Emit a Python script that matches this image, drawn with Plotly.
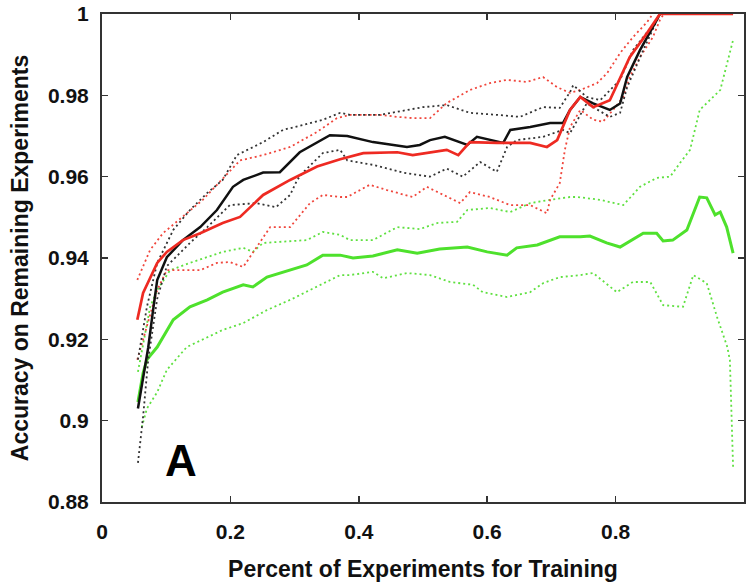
import plotly.graph_objects as go

# ---- data ----
red_x = [0.055, 0.064, 0.086, 0.101, 0.126, 0.153, 0.188, 0.215, 0.251, 0.293, 0.335, 0.371, 0.407, 0.460, 0.484, 0.511, 0.537, 0.555, 0.573, 0.615, 0.667, 0.693, 0.709, 0.729, 0.745, 0.765, 0.791, 0.822, 0.849, 0.869, 0.983]
red_y = [0.9248, 0.9314, 0.9388, 0.9415, 0.9444, 0.9461, 0.9486, 0.9501, 0.9555, 0.9592, 0.9625, 0.9643, 0.9658, 0.9660, 0.9653, 0.9660, 0.9666, 0.9653, 0.9685, 0.9683, 0.9683, 0.9673, 0.9690, 0.9764, 0.9796, 0.9771, 0.9788, 0.9894, 0.9953, 1.0, 1.0]

red_up_x = [0.055, 0.075, 0.095, 0.126, 0.157, 0.179, 0.215, 0.251, 0.293, 0.335, 0.366, 0.386, 0.433, 0.460, 0.484, 0.511, 0.537, 0.573, 0.604, 0.631, 0.662, 0.687, 0.709, 0.729, 0.745, 0.771, 0.787, 0.807, 0.827, 0.849, 0.858]
red_up_y = [0.9346, 0.9420, 0.9461, 0.9501, 0.9543, 0.9580, 0.9640, 0.9653, 0.9673, 0.9710, 0.9744, 0.9752, 0.9752, 0.9747, 0.9744, 0.9744, 0.9781, 0.9813, 0.9830, 0.9838, 0.9833, 0.9845, 0.9820, 0.9806, 0.9813, 0.9830, 0.9855, 0.9904, 0.9943, 0.9980, 1.0]

red_lo_x = [0.055, 0.070, 0.086, 0.101, 0.126, 0.153, 0.179, 0.199, 0.220, 0.241, 0.262, 0.293, 0.324, 0.344, 0.371, 0.382, 0.417, 0.444, 0.484, 0.506, 0.537, 0.558, 0.573, 0.604, 0.636, 0.667, 0.693, 0.698, 0.713, 0.721, 0.729, 0.745, 0.765, 0.780, 0.796, 0.812, 0.822, 0.838, 0.858, 0.869, 0.875]
red_lo_y = [0.9150, 0.9230, 0.9321, 0.9370, 0.9370, 0.9370, 0.9388, 0.9390, 0.9378, 0.9427, 0.9476, 0.9476, 0.9535, 0.9555, 0.9550, 0.9550, 0.9580, 0.9567, 0.9550, 0.9575, 0.9550, 0.9535, 0.9562, 0.9550, 0.9530, 0.9530, 0.9510, 0.9543, 0.9584, 0.9666, 0.9722, 0.9764, 0.9740, 0.9735, 0.9764, 0.9796, 0.9845, 0.9894, 0.9943, 0.9985, 1.0]

black_x = [0.056, 0.064, 0.072, 0.079, 0.086, 0.101, 0.126, 0.153, 0.179, 0.204, 0.220, 0.251, 0.277, 0.308, 0.335, 0.355, 0.382, 0.422, 0.475, 0.495, 0.511, 0.534, 0.569, 0.584, 0.625, 0.636, 0.667, 0.698, 0.718, 0.729, 0.745, 0.765, 0.791, 0.807, 0.818, 0.838, 0.864, 0.869]
black_y = [0.9030, 0.9100, 0.9180, 0.9265, 0.9346, 0.9402, 0.9444, 0.9476, 0.9518, 0.9575, 0.9592, 0.9610, 0.9611, 0.9660, 0.9683, 0.9702, 0.9700, 0.9685, 0.9673, 0.9678, 0.9690, 0.9698, 0.9678, 0.9698, 0.9683, 0.9715, 0.9722, 0.9732, 0.9732, 0.9764, 0.9796, 0.9780, 0.9764, 0.9780, 0.9845, 0.9911, 0.9985, 1.0]

black_up_x = [0.056, 0.070, 0.086, 0.111, 0.137, 0.164, 0.188, 0.210, 0.251, 0.282, 0.313, 0.344, 0.371, 0.386, 0.433, 0.500, 0.537, 0.573, 0.615, 0.651, 0.687, 0.713, 0.729, 0.734, 0.755, 0.776, 0.807, 0.827, 0.864, 0.869]
black_up_y = [0.9150, 0.9280, 0.9388, 0.9469, 0.9518, 0.9560, 0.9592, 0.9653, 0.9685, 0.9715, 0.9727, 0.9740, 0.9757, 0.9752, 0.9752, 0.9771, 0.9776, 0.9757, 0.9752, 0.9747, 0.9771, 0.9769, 0.9808, 0.9825, 0.9796, 0.9788, 0.9838, 0.9911, 0.9985, 1.0]

black_lo_x = [0.056, 0.064, 0.072, 0.086, 0.101, 0.137, 0.164, 0.199, 0.240, 0.271, 0.293, 0.304, 0.313, 0.344, 0.371, 0.382, 0.422, 0.469, 0.511, 0.537, 0.562, 0.589, 0.615, 0.631, 0.646, 0.687, 0.718, 0.729, 0.755, 0.791, 0.807, 0.818, 0.843, 0.869]
black_lo_y = [0.8896, 0.9010, 0.9150, 0.9300, 0.9380, 0.9437, 0.9476, 0.9530, 0.9535, 0.9525, 0.9555, 0.9592, 0.9610, 0.9658, 0.9666, 0.9640, 0.9629, 0.9610, 0.9600, 0.9620, 0.9600, 0.9636, 0.9612, 0.9673, 0.9690, 0.9698, 0.9715, 0.9707, 0.9780, 0.9747, 0.9757, 0.9820, 0.9911, 1.0]

green_x = [0.056, 0.064, 0.070, 0.086, 0.111, 0.137, 0.164, 0.188, 0.220, 0.235, 0.257, 0.293, 0.319, 0.344, 0.371, 0.391, 0.422, 0.460, 0.491, 0.526, 0.569, 0.600, 0.631, 0.646, 0.678, 0.713, 0.745, 0.760, 0.786, 0.807, 0.843, 0.864, 0.874, 0.889, 0.911, 0.931, 0.942, 0.955, 0.963, 0.973, 0.983]
green_y = [0.9046, 0.9117, 0.9150, 0.9181, 0.9248, 0.9280, 0.9297, 0.9316, 0.9334, 0.9329, 0.9353, 0.9370, 0.9383, 0.9407, 0.9407, 0.9400, 0.9405, 0.9420, 0.9412, 0.9422, 0.9427, 0.9415, 0.9407, 0.9425, 0.9432, 0.9452, 0.9452, 0.9454, 0.9437, 0.9427, 0.9461, 0.9461, 0.9442, 0.9444, 0.9469, 0.9550, 0.9548, 0.9506, 0.9513, 0.9476, 0.9412]

green_up_x = [0.056, 0.075, 0.086, 0.106, 0.137, 0.164, 0.188, 0.220, 0.235, 0.251, 0.282, 0.319, 0.344, 0.371, 0.386, 0.422, 0.460, 0.495, 0.522, 0.553, 0.569, 0.604, 0.636, 0.667, 0.698, 0.729, 0.740, 0.776, 0.812, 0.838, 0.864, 0.885, 0.900, 0.916, 0.931, 0.963, 0.983]
green_up_y = [0.9120, 0.9280, 0.9321, 0.9370, 0.9388, 0.9402, 0.9415, 0.9425, 0.9415, 0.9437, 0.9440, 0.9444, 0.9464, 0.9457, 0.9444, 0.9444, 0.9476, 0.9471, 0.9486, 0.9489, 0.9518, 0.9523, 0.9513, 0.9535, 0.9543, 0.9550, 0.9550, 0.9543, 0.9530, 0.9575, 0.9597, 0.9600, 0.9633, 0.9666, 0.9764, 0.9813, 0.9936]

green_lo_x = [0.062, 0.070, 0.086, 0.101, 0.132, 0.164, 0.188, 0.220, 0.257, 0.293, 0.335, 0.371, 0.386, 0.422, 0.438, 0.475, 0.511, 0.542, 0.578, 0.593, 0.631, 0.667, 0.687, 0.713, 0.745, 0.765, 0.802, 0.827, 0.854, 0.874, 0.905, 0.921, 0.942, 0.958, 0.974, 0.978, 0.983]
green_lo_y = [0.8984, 0.9030, 0.9070, 0.9125, 0.9181, 0.9206, 0.9223, 0.9240, 0.9272, 0.9297, 0.9329, 0.9358, 0.9358, 0.9366, 0.9350, 0.9363, 0.9358, 0.9341, 0.9334, 0.9316, 0.9304, 0.9316, 0.9338, 0.9353, 0.9358, 0.9363, 0.9316, 0.9341, 0.9341, 0.9284, 0.9280, 0.9358, 0.9338, 0.9255, 0.9181, 0.9149, 0.8886]

x_ticks = [0, 0.2, 0.4, 0.6, 0.8, 1]
x_tick_labels = ["0", "0.2", "0.4", "0.6", "0.8", "1"]
y_ticks = [0.88, 0.9, 0.92, 0.94, 0.96, 0.98, 1]
y_tick_labels = ["0.88", "0.9", "0.92", "0.94", "0.96", "0.98", "1"]

RED = "#ee2a22"
RED_DOT = "#f0463c"
GREEN = "#4ee12c"
GREEN_DOT = "#5fe040"
BLACK = "#111111"
FONT = "Liberation Sans, Arial"
DOT = "2px,3px"

fig = go.Figure()

def add(x, y, color, width, dash="solid"):
    fig.add_trace(go.Scatter(x=x, y=y, mode="lines", showlegend=False, hoverinfo="skip",
                             line=dict(color=color, width=width, dash=dash, shape="linear")))

add(green_lo_x, green_lo_y, GREEN_DOT, 1.8, DOT)
add(green_up_x, green_up_y, GREEN_DOT, 1.8, DOT)
add(green_x, green_y, GREEN, 3)
add(red_lo_x, red_lo_y, RED_DOT, 1.8, DOT)
add(red_up_x, red_up_y, RED_DOT, 1.8, DOT)
add(black_lo_x, black_lo_y, "#333333", 1.8, DOT)
add(black_up_x, black_up_y, "#333333", 1.8, DOT)
add(black_x, black_y, BLACK, 2.5)
add(red_x, red_y, RED, 2.7)

fig.add_annotation(x=0.123, y=0.8838, xref="x", yref="y", text="<b>A</b>",
                   showarrow=False, xanchor="center", yanchor="bottom",
                   font=dict(family=FONT, size=44, color="#000000"))

axis_common = dict(showline=True, linecolor="#333333", linewidth=2, mirror="ticks",
                   ticks="inside", ticklen=6, tickwidth=1.5, tickcolor="#333333",
                   showgrid=False, zeroline=False, automargin=False,
                   tickfont=dict(family=FONT, size=21, color="#111111"))

fig.update_xaxes(range=[0, 1], tickvals=x_ticks, ticktext=["<b>%s</b>" % t for t in x_tick_labels],
                 ticklabelstandoff=10,
                 title=dict(text="<b>Percent of Experiments for Training</b>", standoff=19,
                            font=dict(family=FONT, size=23, color="#111111")),
                 **axis_common)
fig.update_yaxes(range=[0.88, 1], tickvals=y_ticks, ticktext=["<b>%s</b>" % t for t in y_tick_labels],
                 ticklabelstandoff=7,
                 title=dict(text="<b>Accuracy on Remaining Experiments</b>", standoff=13,
                            font=dict(family=FONT, size=23, color="#111111")),
                 **axis_common)

fig.update_layout(width=747, height=583, plot_bgcolor="white", paper_bgcolor="white",
                  margin=dict(l=102, r=3, t=14, b=81), hovermode=False)

fig.write_html("out.html", config={"displayModeBar": False, "staticPlot": True},
               post_script="document.body.style.margin='0px';document.body.style.padding='0px';")
